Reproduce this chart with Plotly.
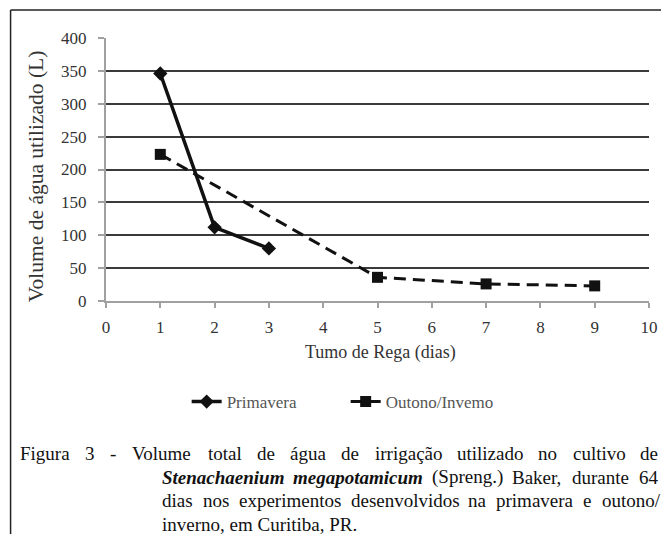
import plotly.graph_objects as go

# ---------------- data ----------------
prim_x = [1, 2, 3]
prim_y = [346, 112, 80]
out_x = [1, 5, 7, 9]
out_y = [223, 36, 26, 23]
series_names = ["Primavera", "Outono/Invemo"]
x_title = "Tumo de Rega (dias)"
y_title = "Volume de água utilizado (L)"
x_ticks = list(range(0, 11))
y_ticks = list(range(0, 401, 50))

caption_line1 = ["Figura", "3", "-", "Volume", "total", "de", "água", "de", "irrigação",
                 "utilizado", "no", "cultivo", "de"]
caption_line2 = [("Stenachaenium", "bi"), ("megapotamicum", "bi"), ("(Spreng.)", "r"),
                 ("Baker,", "r"), ("durante", "r"), ("64", "r")]
caption_line3 = ["dias", "nos", "experimentos", "desenvolvidos", "na", "primavera", "e", "outono/"]
caption_line4 = "inverno, em Curitiba, PR."

# ---------------- layout geometry ----------------
OFF = 8                      # page body margin of the html page
W, H = 669 - OFF, 534 - OFF  # figure size so that it fits the window
# plot area, in window pixels
SL, SR, ST, SB = 106, 658, 38, 301
L, R, T, B = SL - OFF, SR - OFF, ST - OFF, SB - OFF


def px_x(p):  # window pixel -> paper
    return (p - SL) / (SR - SL)


def px_y(p):
    return (SB - p) / (SB - ST)


SERIF = "Liberation Serif"

# Times / Liberation Serif advance widths (per 1000 em)
REG = {' ': 250, '(': 333, ')': 333, ',': 250, '-': 333, '.': 250, '/': 278,
       '0': 500, '1': 500, '2': 500, '3': 500, '4': 500, '5': 500, '6': 500, '7': 500, '8': 500, '9': 500,
       'B': 667, 'C': 667, 'F': 556, 'P': 556, 'R': 667, 'S': 556, 'V': 722,
       'a': 444, 'b': 500, 'c': 444, 'd': 500, 'e': 444, 'f': 333, 'g': 500, 'h': 500, 'i': 278,
       'j': 278, 'k': 500, 'l': 278, 'm': 778, 'n': 500, 'o': 500, 'p': 500, 'q': 500, 'r': 333,
       's': 389, 't': 278, 'u': 500, 'v': 500, 'w': 722, 'x': 500, 'y': 500, 'z': 444,
       'á': 444, 'ã': 444, 'ç': 444, 'é': 444}
BI = {'S': 556, 'a': 500, 'c': 444, 'e': 444, 'g': 500, 'h': 556, 'i': 278, 'm': 778,
      'n': 556, 'o': 500, 'p': 500, 't': 278, 'u': 556}


def word_w(word, style, size):
    table = BI if style == "bi" else REG
    return sum(table.get(ch, 500) for ch in word) * size / 1000.0


fig = go.Figure()

fig.add_trace(go.Scatter(
    x=prim_x, y=prim_y, name=series_names[0], mode="lines+markers",
    line=dict(color="#111111", width=3.5),
    marker=dict(symbol="diamond", size=11, color="#111111"),
))
fig.add_trace(go.Scatter(
    x=out_x, y=out_y, name=series_names[1], mode="lines+markers",
    line=dict(color="#111111", width=3, dash="12px,7px"),
    marker=dict(symbol="square", size=11, color="#111111"),
))

annotations = []

# axis titles
annotations.append(dict(text=x_title, x=px_x(385), y=px_y(352), xref="paper", yref="paper",
                        showarrow=False, xanchor="center", yanchor="middle",
                        font=dict(family=SERIF, size=18, color="#333333")))
annotations.append(dict(text=y_title, x=px_x(35), y=px_y(176), xref="paper", yref="paper",
                        showarrow=False, xanchor="center", yanchor="middle", textangle=-90,
                        font=dict(family=SERIF, size=21.5, color="#333333")))

# caption (justified lines)
CAP = 19
cap_font = dict(family=SERIF, size=CAP, color="#111111")


def justify(words, x0, x1, yc):
    items = [(w, "r") if isinstance(w, str) else w for w in words]
    widths = [word_w(w, s, CAP) for w, s in items]
    gap = (x1 - x0 - sum(widths)) / (len(items) - 1)
    cur = x0
    for (w, s), ww in zip(items, widths):
        txt = f"<b><i>{w}</i></b>" if s == "bi" else w
        annotations.append(dict(text=txt, x=px_x(cur), y=px_y(yc), xref="paper", yref="paper",
                                showarrow=False, xanchor="left", yanchor="middle",
                                borderpad=0, font=cap_font))
        cur += ww + gap


justify(caption_line1, 18, 666, 453)
justify(caption_line2, 162, 666, 477)
justify(caption_line3, 162, 667, 501)
annotations.append(dict(text=caption_line4, x=px_x(162), y=px_y(524), xref="paper", yref="paper",
                        showarrow=False, xanchor="left", yanchor="middle", borderpad=0,
                        font=cap_font))

shapes = [
    dict(type="line", xref="paper", yref="paper", x0=px_x(9), x1=px_x(680), y0=px_y(10), y1=px_y(10),
         line=dict(color="#222222", width=1.5)),
    dict(type="line", xref="paper", yref="paper", x0=px_x(9), x1=px_x(9), y0=px_y(10), y1=px_y(545),
         line=dict(color="#222222", width=1.5)),
]

fig.update_layout(
    width=W, height=H,
    margin=dict(l=L, r=W - R, t=T, b=H - B, pad=0),
    paper_bgcolor="white", plot_bgcolor="white",
    showlegend=True,
    legend=dict(orientation="h", x=px_x(188), y=px_y(402), xanchor="left", yanchor="middle",
                font=dict(family=SERIF, size=17, color="#555555"),
                bgcolor="rgba(0,0,0,0)", entrywidth=114, entrywidthmode="pixels",
                tracegroupgap=0),
    annotations=annotations,
    shapes=shapes,
    font=dict(family=SERIF),
)

fig.update_xaxes(
    range=[0, 10], tickvals=x_ticks, showgrid=False, zeroline=False,
    showline=True, linecolor="#a0a0a0", linewidth=2,
    ticks="outside", ticklen=5, tickwidth=2, tickcolor="#a0a0a0",
    tickfont=dict(family=SERIF, size=17, color="#333333"), ticklabelstandoff=5,
)
fig.update_yaxes(
    range=[0, 400], tickvals=y_ticks, showgrid=True, gridcolor="#3a3a3a", gridwidth=2,
    zeroline=False, showline=True, linecolor="#a0a0a0", linewidth=2,
    ticks="outside", ticklen=6, tickwidth=2, tickcolor="#a0a0a0",
    tickfont=dict(family=SERIF, size=17, color="#333333"), ticklabelstandoff=8,
)

fig.write_html("out.html")
